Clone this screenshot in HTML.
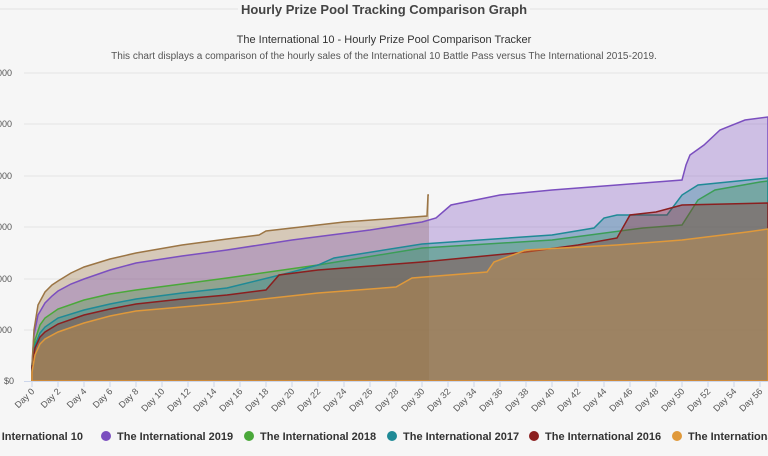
<!DOCTYPE html>
<html><head><meta charset="utf-8"><style>
body{margin:0;width:768px;height:456px;overflow:hidden;background:#f6f6f6;font-family:"Liberation Sans",sans-serif;}
</style></head><body>
<svg width="768" height="456" xmlns="http://www.w3.org/2000/svg" style="position:absolute;left:0;top:0">
<rect width="768" height="456" fill="#f6f6f6"/>
<line x1="0" y1="9" x2="238" y2="9" stroke="#e2e2e2"/>
<line x1="530" y1="9" x2="768" y2="9" stroke="#e2e2e2"/>
<text x="384" y="14" text-anchor="middle" font-size="13" font-weight="bold" fill="#444">Hourly Prize Pool Tracking Comparison Graph</text>
<text x="384" y="43" text-anchor="middle" font-size="11" fill="#333">The International 10 - Hourly Prize Pool Comparison Tracker</text>
<text x="384" y="59" text-anchor="middle" font-size="10" fill="#555">This chart displays a comparison of the hourly sales of the International 10 Battle Pass versus The International 2015-2019.</text>
<g stroke="#e4e4e4">
<line x1="24" y1="73" x2="768" y2="73"/><line x1="24" y1="124" x2="768" y2="124"/><line x1="24" y1="176" x2="768" y2="176"/><line x1="24" y1="227" x2="768" y2="227"/><line x1="24" y1="279" x2="768" y2="279"/><line x1="24" y1="330" x2="768" y2="330"/>
</g>
<g font-size="9" fill="#555" text-anchor="end">
<text x="12" y="76">000</text><text x="12" y="127">000</text><text x="12" y="179">000</text><text x="12" y="230">000</text><text x="12" y="282">000</text><text x="12" y="333">000</text><text x="14" y="384">$0</text>
</g>
<g stroke-width="1.5">
<path d="M32,365 34,330 38,305 45,292 52,285 58,281 71,273 84,267 110,259 136,253 182,245 227,239 259,235 266,231 344,222 427,216 428,195 429,195 L429,381 L32,381Z" fill="rgba(155,117,69,0.35)" stroke="none"/>
<path d="M32,365 34,335 38,315 45,303 52,296 58,291 71,284 84,279 110,270 136,263 182,256 227,250 292,240 370,230 422,222 436,218 451,205 500,195 552,190 617,185 682,180 686,165 690,155 704,145 720,130 745,120 768,117 L768,381 L32,381Z" fill="rgba(123,79,191,0.33)" stroke="#7b4fbf"/>
<path d="M32,365 35,340 40,325 45,318 58,309 84,300 110,294 136,290 182,284 227,278 318,265 422,248 552,240 643,228 682,225 698,200 715,190 760,182 768,181 L768,381 L32,381Z" fill="rgba(74,168,58,0.33)" stroke="#4aa83a"/>
<path d="M32,365 35,345 40,333 45,327 58,318 84,310 110,304 136,299 182,293 227,288 292,272 318,265 334,258 422,244 552,235 594,228 604,218 617,215 667,215 682,195 698,185 768,178 L768,381 L32,381Z" fill="rgba(31,138,150,0.33)" stroke="#1f8a96"/>
<path d="M32,367 35,348 40,337 45,332 58,324 84,315 110,309 136,304 182,299 227,295 266,290 279,275 318,270 422,262 526,252 578,245 617,238 630,215 656,212 682,205 768,203 L768,381 L32,381Z" fill="rgba(139,31,31,0.33)" stroke="#8b1f1f"/>
<path d="M32,372 35,355 40,344 45,339 58,332 84,323 110,316 136,311 182,307 227,303 318,293 396,287 412,278 487,272 494,262 526,250 617,245 682,240 747,232 768,229 L768,381 L32,381Z" fill="rgba(224,153,58,0.33)" stroke="#e0993a"/>
<path d="M32,365 34,330 38,305 45,292 52,285 58,281 71,273 84,267 110,259 136,253 182,245 227,239 259,235 266,231 344,222 427,216 428,195 429,195" fill="none" stroke="#9b7545"/>
</g>
<line x1="24" y1="381.5" x2="768" y2="381.5" stroke="#ccd6eb"/>
<g stroke="#ccd6eb">
<line x1="32" y1="381" x2="32" y2="387"/><line x1="58" y1="381" x2="58" y2="387"/><line x1="84" y1="381" x2="84" y2="387"/><line x1="110" y1="381" x2="110" y2="387"/><line x1="136" y1="381" x2="136" y2="387"/><line x1="162" y1="381" x2="162" y2="387"/><line x1="188" y1="381" x2="188" y2="387"/><line x1="214" y1="381" x2="214" y2="387"/><line x1="240" y1="381" x2="240" y2="387"/><line x1="266" y1="381" x2="266" y2="387"/><line x1="292" y1="381" x2="292" y2="387"/><line x1="318" y1="381" x2="318" y2="387"/><line x1="344" y1="381" x2="344" y2="387"/><line x1="370" y1="381" x2="370" y2="387"/><line x1="396" y1="381" x2="396" y2="387"/><line x1="422" y1="381" x2="422" y2="387"/><line x1="448" y1="381" x2="448" y2="387"/><line x1="474" y1="381" x2="474" y2="387"/><line x1="500" y1="381" x2="500" y2="387"/><line x1="526" y1="381" x2="526" y2="387"/><line x1="552" y1="381" x2="552" y2="387"/><line x1="578" y1="381" x2="578" y2="387"/><line x1="604" y1="381" x2="604" y2="387"/><line x1="630" y1="381" x2="630" y2="387"/><line x1="656" y1="381" x2="656" y2="387"/><line x1="682" y1="381" x2="682" y2="387"/><line x1="708" y1="381" x2="708" y2="387"/><line x1="734" y1="381" x2="734" y2="387"/><line x1="760" y1="381" x2="760" y2="387"/>
</g>
<g font-size="9" fill="#555" text-anchor="end">
<text transform="translate(35,392) rotate(-45)">Day 0</text><text transform="translate(61,392) rotate(-45)">Day 2</text><text transform="translate(87,392) rotate(-45)">Day 4</text><text transform="translate(113,392) rotate(-45)">Day 6</text><text transform="translate(139,392) rotate(-45)">Day 8</text><text transform="translate(165,392) rotate(-45)">Day 10</text><text transform="translate(191,392) rotate(-45)">Day 12</text><text transform="translate(217,392) rotate(-45)">Day 14</text><text transform="translate(243,392) rotate(-45)">Day 16</text><text transform="translate(269,392) rotate(-45)">Day 18</text><text transform="translate(295,392) rotate(-45)">Day 20</text><text transform="translate(321,392) rotate(-45)">Day 22</text><text transform="translate(347,392) rotate(-45)">Day 24</text><text transform="translate(373,392) rotate(-45)">Day 26</text><text transform="translate(399,392) rotate(-45)">Day 28</text><text transform="translate(425,392) rotate(-45)">Day 30</text><text transform="translate(451,392) rotate(-45)">Day 32</text><text transform="translate(477,392) rotate(-45)">Day 34</text><text transform="translate(503,392) rotate(-45)">Day 36</text><text transform="translate(529,392) rotate(-45)">Day 38</text><text transform="translate(555,392) rotate(-45)">Day 40</text><text transform="translate(581,392) rotate(-45)">Day 42</text><text transform="translate(607,392) rotate(-45)">Day 44</text><text transform="translate(633,392) rotate(-45)">Day 46</text><text transform="translate(659,392) rotate(-45)">Day 48</text><text transform="translate(685,392) rotate(-45)">Day 50</text><text transform="translate(711,392) rotate(-45)">Day 52</text><text transform="translate(737,392) rotate(-45)">Day 54</text><text transform="translate(763,392) rotate(-45)">Day 56</text>
</g>
<g font-size="11" font-weight="bold" fill="#333">
<text x="83" y="440" text-anchor="end">The International 10</text>
<circle cx="106" cy="436" r="5" fill="#7b4fbf"/><text x="117" y="440">The International 2019</text>
<circle cx="249" cy="436" r="5" fill="#4aa83a"/><text x="260" y="440">The International 2018</text>
<circle cx="392" cy="436" r="5" fill="#1f8a96"/><text x="403" y="440">The International 2017</text>
<circle cx="534" cy="436" r="5" fill="#8b1f1f"/><text x="545" y="440">The International 2016</text>
<circle cx="677" cy="436" r="5" fill="#e0993a"/><text x="688" y="440">The International 2015</text>
</g>
</svg>
</body></html>
